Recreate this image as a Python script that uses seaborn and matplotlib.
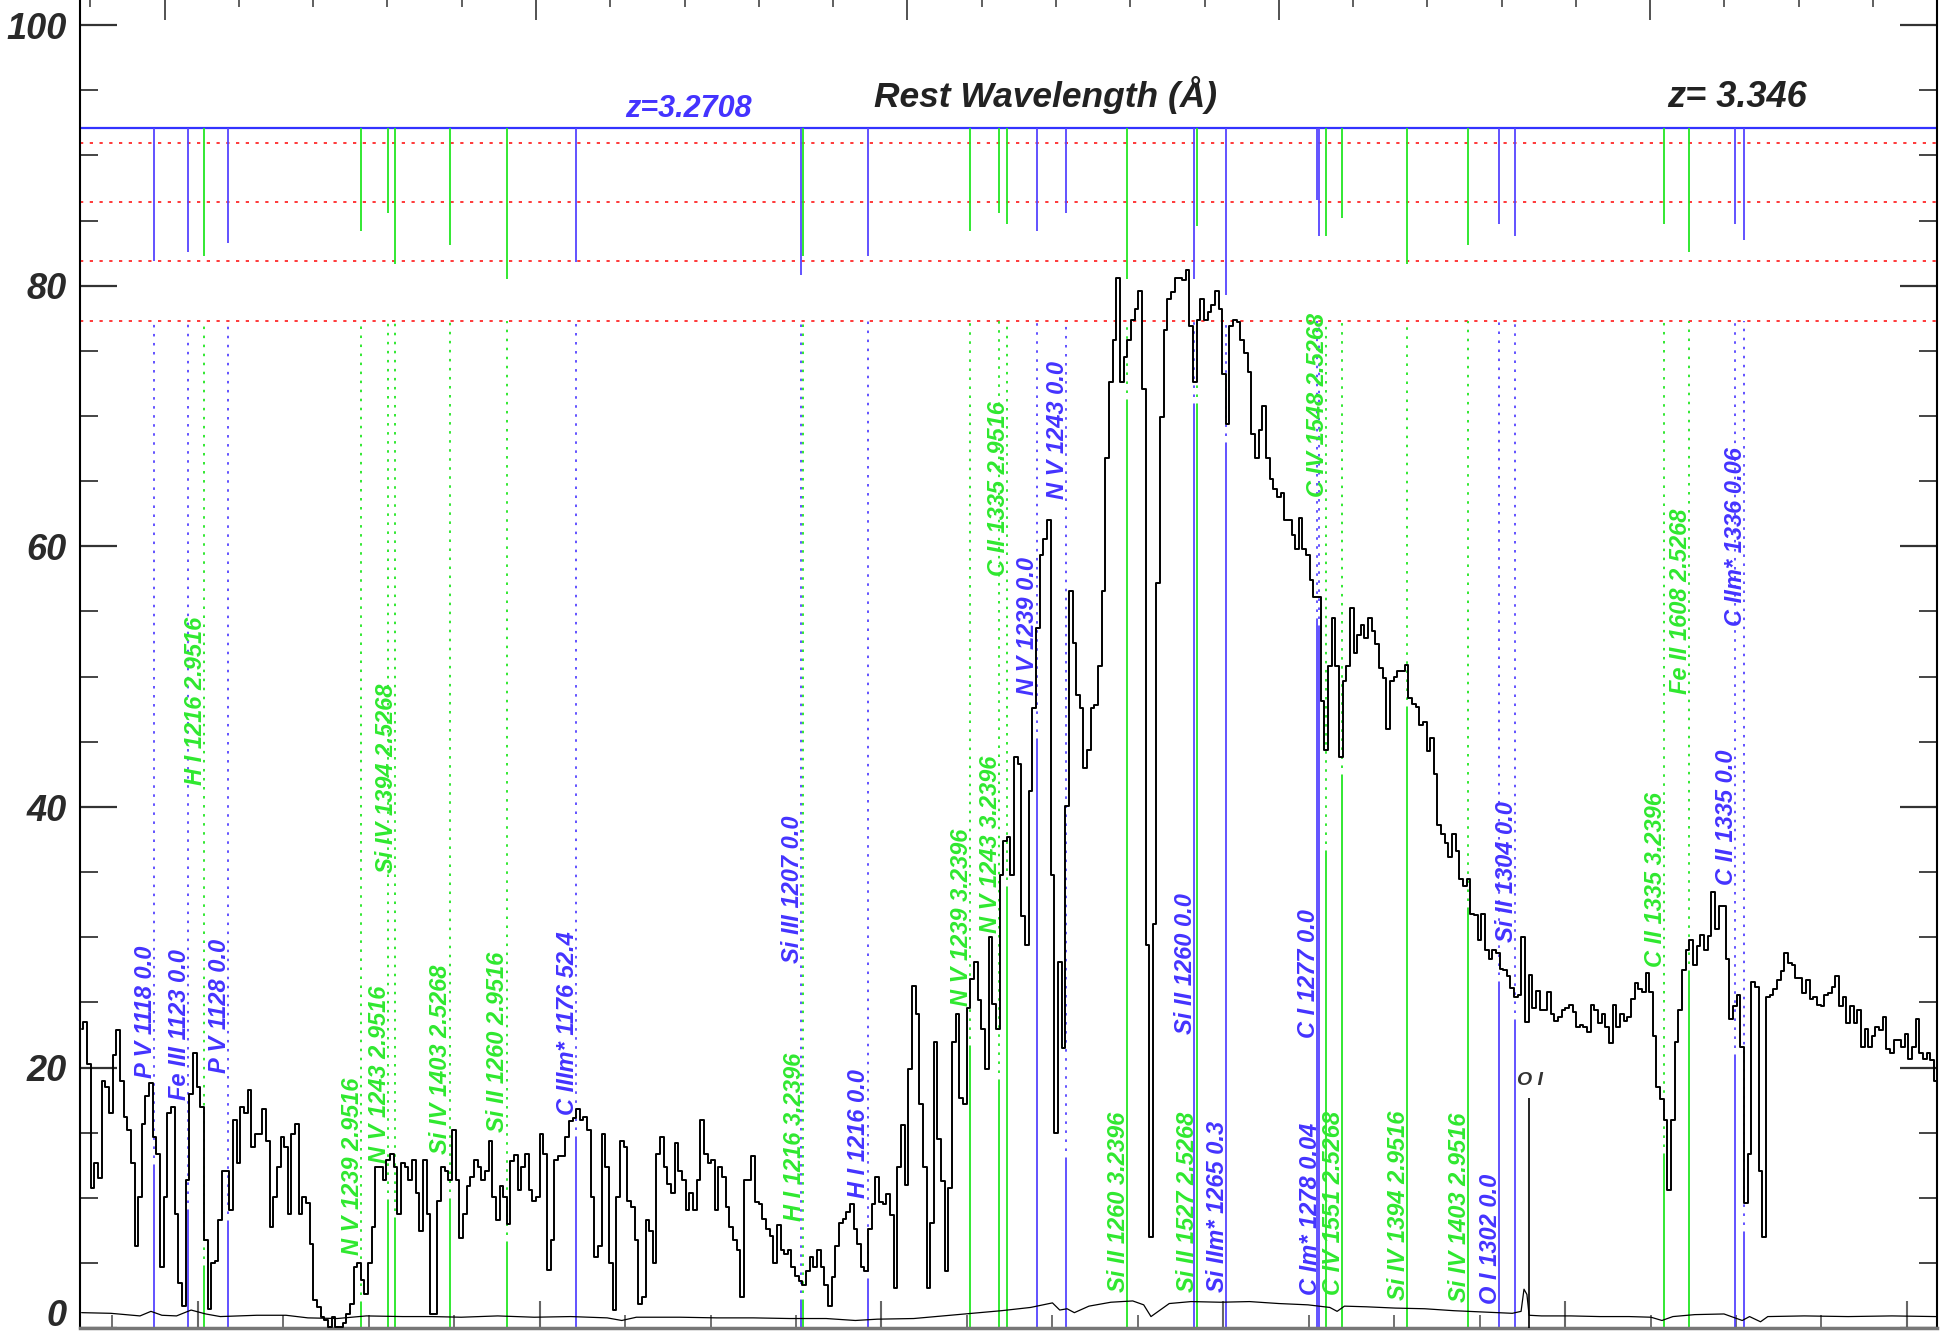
import numpy as np
import pandas as pd
import matplotlib
matplotlib.use("Agg")
import matplotlib.pyplot as plt
from matplotlib.ticker import MultipleLocator
import seaborn as sns

# === Redshifts === #
z_sys = 3.2708      # blue system, spectrum wavelengths are rest at this z
z_top = 3.346       # top axis rest frame

# === Spectrum: rest wavelength (z_sys), 0.5 A bins starting at 1108 A === #
wave_start = 1108.0
wave_step = 0.5

flux_a = [23.0, 23.5, 20.3, 10.8, 12.7, 11.5, 19.0, 18.5, 16.5, 21.0,
          22.9, 19.0, 16.2, 15.2, 12.7, 6.3, 10.1, 15.7, 17.8, 18.8,
          14.7, 13.4, 4.7, 10.1, 16.5, 17.0, 8.8, 3.5, 1.7, 11.4,
          18.0, 21.1, 18.5, 17.0, 6.8, 1.5, 5.0, 5.2, 8.3, 12.1,
          12.1, 9.1, 16.0, 12.7, 17.0, 16.5, 18.3, 13.9, 14.9, 14.9,
          16.8, 14.4, 7.8, 10.1, 12.4, 14.7, 13.9, 8.8, 14.9, 15.7,
          8.8, 10.1, 9.6, 6.5, 2.2, 1.6, 0.9, 0.6, 0.1, 0.9,
          0.1, 0.1, 0.4, 1.1, 1.9, 4.7, 5.0, 3.7, 2.6, 5.0,
          7.8, 12.4, 12.4, 11.4, 12.9, 13.4, 12.4, 8.8, 12.7, 12.4,
          11.4, 12.9, 10.4]
flux_b = [7.5, 12.9, 8.8, 1.1, 1.1, 9.8, 12.4, 12.1, 11.4, 15.2,
          11.4, 6.9, 8.8, 10.9, 11.6, 12.9, 12.4, 11.4, 12.1, 14.4,
          10.1, 8.3, 10.9, 10.1, 8.0, 12.8, 13.3, 10.6, 12.4, 13.4,
          10.6, 9.8, 10.1, 14.9, 13.4, 4.5, 6.8, 12.9, 13.2, 13.2,
          14.7, 15.9, 16.1, 16.8, 16.0, 16.2, 15.2, 10.1, 5.5, 6.3,
          14.9, 12.4, 5.0, 1.4, 10.1, 14.4, 13.9, 9.8, 9.3, 6.8,
          1.9, 2.4, 8.3, 7.5, 5.0, 13.4, 14.7, 12.4, 11.1, 10.4,
          14.2, 12.1, 11.4, 9.1, 10.4, 9.1, 11.4, 16.0, 13.4, 12.7,
          12.9, 9.1, 12.4, 11.6, 9.3, 7.8, 6.8, 6.0, 2.4, 11.4,
          11.4]
flux_c = [13.2, 9.7, 9.5, 8.4, 7.6, 7.1, 5.0, 7.9, 6.0, 5.7,
          6.0, 4.7, 4.0, 3.6, 3.3, 4.4, 5.5, 4.7, 6.0, 4.7,
          3.3, 1.7, 3.9, 6.3, 8.1, 8.4, 8.9, 9.5, 7.6, 6.5,
          4.7, 4.4, 7.6, 9.5, 11.6, 9.7, 9.5, 10.3, 8.7, 3.1,
          12.4, 15.6, 11.0, 19.9, 26.3, 24.1, 17.2, 12.4, 3.1, 8.1,
          22.0, 14.5, 11.3, 4.4, 10.8, 22.0, 24.1, 17.7, 17.2, 24.6,
          26.8, 28.1, 25.2, 23.0, 19.9, 30.0, 24.9, 23.0, 34.8, 37.4,
          37.7, 34.8, 43.8, 43.3, 31.6, 29.4, 41.2, 47.6, 53.7, 59.3,
          60.6, 62.0, 34.8, 15.0, 28.1, 21.5, 40.1, 56.6]
flux_d = [52.6, 48.6, 47.6, 43.0, 44.4, 47.6, 47.8, 50.8, 56.6, 66.8,
          72.6, 75.8, 80.6, 72.6, 74.5, 75.8, 77.4, 78.2, 79.6, 72.1,
          29.4, 7.0, 31.0, 57.2, 69.9, 76.6, 79.0, 79.5, 80.6, 80.6,
          80.4, 81.2, 76.9, 72.6, 77.4, 79.0, 77.4, 78.0, 78.5, 79.6,
          78.2, 73.2, 69.4, 76.9, 77.4, 77.2, 75.8, 74.8, 73.4, 68.6,
          66.8, 68.9, 70.8, 66.8, 65.2, 64.4, 63.8, 64.1, 62.0, 62.0,
          60.9, 59.8, 62.2, 59.8, 59.3, 57.4, 56.1, 56.1, 48.1, 44.4,
          50.8, 54.5, 50.8, 43.8, 49.7, 50.8, 55.3, 51.8, 53.2]
flux_e = [54.0, 53.0, 54.5, 53.5, 52.5, 50.7, 49.9, 46.0, 49.7, 50.0,
          50.4, 50.4, 50.9, 48.4, 47.9, 47.7, 46.3, 46.5, 44.3, 45.3,
          42.5, 38.6, 37.9, 37.2, 36.2, 37.9, 36.6, 34.5, 33.9, 34.5,
          31.8, 31.7, 29.8, 31.8, 29.0, 28.3, 29.0, 28.8, 27.6, 27.5,
          27.0, 26.1, 25.4, 25.6, 30.0, 23.5, 27.1, 24.6, 25.9, 24.4,
          24.4, 25.8, 24.1, 23.6, 23.9, 24.4, 24.6, 24.8, 24.3, 23.1,
          23.3, 23.1, 22.7, 24.8, 24.4, 23.4, 24.1, 23.1, 21.9, 24.8,
          23.1, 24.1, 23.6, 23.9, 25.3, 26.5, 26.0, 25.8, 27.3]
flux_f = [25.8, 22.4, 18.5, 17.6, 16.0, 10.6, 16.0, 22.0, 24.4, 27.5,
          29.0, 29.8, 27.9, 29.3, 30.2, 29.0, 30.1, 33.5, 30.6, 32.4,
          32.4, 28.3, 23.7, 24.7, 25.6, 21.6, 9.6, 13.4, 26.6, 26.2,
          12.1, 7.0, 25.4, 25.6, 26.0, 26.7, 27.4, 28.8, 28.0, 27.9,
          26.9, 26.9, 25.7, 26.7, 25.3, 25.4, 24.8, 24.7, 25.6, 25.7,
          26.2, 27.0, 24.7, 25.4, 23.4, 24.7, 23.4, 24.4, 21.6, 23.0,
          21.6, 22.4, 23.1, 22.9, 23.9, 21.4, 21.1, 22.1, 22.1, 21.6,
          22.6, 20.7, 21.6, 23.7, 21.1, 20.7, 21.1, 20.6, 19.0]

# === Error spectrum === #
err_wave = [1108, 1112, 1116, 1117.5, 1119, 1121, 1123, 1125, 1127, 1132,
            1136, 1139, 1143, 1147, 1152, 1156, 1160, 1165, 1170, 1175,
            1180, 1182, 1184, 1190, 1195, 1200, 1205, 1210, 1214, 1217,
            1222, 1226, 1230, 1234, 1238, 1241, 1242, 1243, 1244, 1246,
            1249, 1252, 1253.5, 1254.5, 1255.5, 1257, 1260, 1264, 1268, 1272,
            1276, 1279, 1280, 1281, 1284, 1288, 1292, 1296, 1300, 1304,
            1305.2, 1305.6, 1306.0, 1306.3, 1308, 1312, 1316, 1320, 1323, 1324.5,
            1326, 1329, 1333, 1335.5, 1336.5, 1338, 1339, 1344, 1350, 1356, 1362]
err_flux = [1.2, 1.15, 0.95, 1.3, 1.0, 0.95, 1.4, 1.1, 0.9, 1.0,
            1.0, 0.8, 0.75, 0.95, 0.9, 0.9, 0.85, 0.95, 0.85, 0.9,
            0.8, 0.6, 0.85, 0.85, 0.8, 0.8, 0.75, 0.75, 0.6, 0.7,
            0.75, 0.95, 1.15, 1.35, 1.6, 1.95, 1.4, 1.5, 1.2, 1.7,
            2.0, 2.1, 1.8, 0.9, 1.3, 1.9, 2.05, 2.0, 2.05, 1.9,
            1.8, 1.6, 1.3, 1.7, 1.65, 1.55, 1.5, 1.35, 1.25, 1.15,
            1.3, 3.0, 2.6, 1.0, 0.95, 0.95, 0.9, 0.9, 0.85, 0.6,
            0.9, 1.05, 1.1, 0.6, 0.9, 0.5, 0.9, 0.95, 0.9, 0.95, 0.9]

# === Absorption line identifications === #
blue_names = ["P V 1118 0.0", "Fe III 1123 0.0", "P V 1128 0.0", "C IIIm* 1176 52.4",
              "Si III 1207 0.0", "H I 1216 0.0", "N V 1239 0.0", "N V 1243 0.0",
              "Si II 1260 0.0", "Si IIm* 1265 0.3", "C I 1277 0.0", "C Im* 1278 0.04",
              "O I 1302 0.0", "Si II 1304 0.0", "C II 1335 0.0", "C IIm* 1336 0.06"]
blue_rest = [1117.977, 1122.52, 1128.008, 1175.71, 1206.50, 1215.67, 1238.821, 1242.804,
             1260.422, 1264.738, 1277.245, 1277.51, 1302.168, 1304.370, 1334.532, 1335.708]
blue_top_end = [81.9, 82.55, 83.3, 81.8, 80.8, 82.24, 84.2, 85.6,
                80.55, 79.3, 86.6, 83.8, 84.7, 83.8, 84.7, 83.5]
blue_low = [12.4, 8.95, 8.1, 14.5, 2.0, 3.6, 45.1, 12.9,
            70.8, 67.8, 54.3, 53.7, 26.4, 23.5, 20.8, 7.2]
blue_label_y = [19.2, 17.5, 19.6, 16.4, 28.0, 10.0, 48.6, 63.6,
                22.6, 2.8, 22.3, 2.55, 1.85, 29.65, 34.0, 53.9]

green_names = ["H I 1216 2.9516", "N V 1239 2.9516", "N V 1243 2.9516", "Si IV 1394 2.5268",
               "Si IV 1403 2.5268", "Si II 1260 2.9516", "H I 1216 3.2396", "N V 1239 3.2396",
               "N V 1243 3.2396", "C II 1335 2.9516", "Si II 1260 3.2396", "Si II 1527 2.5268",
               "C IV 1548 2.5268", "C IV 1551 2.5268", "Si IV 1394 2.9516", "Si IV 1403 2.9516",
               "C II 1335 3.2396", "Fe II 1608 2.5268"]
green_rest = [1215.67, 1238.821, 1242.804, 1393.755, 1402.770, 1260.422, 1215.67, 1238.821,
              1242.804, 1334.532, 1260.422, 1526.707, 1548.195, 1550.770, 1393.755, 1402.770,
              1334.532, 1608.451]
green_z = [2.9516, 2.9516, 2.9516, 2.5268, 2.5268, 2.9516, 3.2396, 3.2396,
           3.2396, 2.9516, 3.2396, 2.5268, 2.5268, 2.5268, 2.9516, 2.9516,
           3.2396, 2.5268]
green_top_end = [82.24, 84.2, 85.6, 81.7, 83.1, 80.55, 82.24, 84.2,
                 85.6, 84.7, 80.55, 84.56, 83.8, 85.2, 81.7, 83.1, 84.7, 82.55]
green_low = [4.6, 1.9, 9.7, 8.3, 9.8, 6.5, 2.0, 21.5,
             18.9, 33.7, 71.1, 70.8, 36.5, 42.3, 47.5, 32.1, 13.2, 27.3]
green_label_y = [41.7, 5.6, 12.7, 34.9, 13.4, 15.1, 8.2, 24.7,
                 30.3, 57.7, 2.8, 2.8, 63.8, 2.55, 2.2, 2.0, 27.75, 48.7]

# reference levels
blue_level = 92.1
red_levels = [90.97, 86.4, 81.86, 77.3]
sky_line_obs = 5579.0
sky_low = 17.7
ytick_vals = [0, 20, 40, 60, 80, 100]

# === Build frames === #
flux = np.concatenate([flux_a, flux_b, flux_c, flux_d, flux_e, flux_f])
wave_rest = wave_start + wave_step * np.arange(len(flux))
spec = pd.DataFrame({"wave_obs": wave_rest * (1 + z_sys), "flux": flux})
err = pd.DataFrame({"wave_obs": np.array(err_wave) * (1 + z_sys), "flux": err_flux})

blue = pd.DataFrame({"name": blue_names, "obs": np.array(blue_rest) * (1 + z_sys),
                     "top_end": blue_top_end, "low": blue_low, "label_y": blue_label_y})
blue["text_color"] = "#4433ff"
blue["line_color"] = "#5544ff"
green = pd.DataFrame({"name": green_names,
                      "obs": np.array(green_rest) * (1 + np.array(green_z)),
                      "top_end": green_top_end, "low": green_low, "label_y": green_label_y})
green["text_color"] = "#2fe82f"
green["line_color"] = "#22e622"
lines = pd.concat([green, blue], ignore_index=True)

# === Style === #
sns.set_theme(style="white")
plt.rcParams["font.family"] = ["Liberation Sans", "DejaVu Sans"]
plt.rcParams["lines.scale_dashes"] = True

fig = plt.figure(figsize=(19.44, 13.39), dpi=100)
ax = fig.add_axes([80 / 1944, 10.7 / 1339, 1857 / 1944, 1328.3 / 1339])

# red dotted levels and blue marker baseline
for lev in red_levels:
    ax.axhline(lev, color="#ff2a2a", lw=1.3, ls=(0, (1.8, 3.6)), zorder=1)
ax.axhline(blue_level, color="#3333ff", lw=1.6, zorder=2)

# line markers
for _, row in lines.iterrows():
    ax.vlines(row["obs"], row["top_end"], blue_level, color=row["line_color"], lw=1.3, zorder=2)
    ax.vlines(row["obs"], row["low"], red_levels[-1], color=row["line_color"], lw=1.3,
              linestyles=(0, (1.4, 3.6)), zorder=2)
    ax.vlines(row["obs"], 0, row["low"], color=row["line_color"], lw=1.3, zorder=2)
    ax.annotate(row["name"], xy=(row["obs"], row["label_y"]), xytext=(-1.5, 0),
                textcoords="offset points", rotation=90, rotation_mode="anchor",
                ha="left", va="baseline", color=row["text_color"], fontsize=17,
                fontweight="bold", fontstyle="italic", zorder=4)

# sky line
ax.vlines(sky_line_obs, 0, sky_low, color="black", lw=1.2, zorder=3)
ax.text(0.7808, 18.7, "O I", transform=ax.get_yaxis_transform(), ha="center",
        va="baseline", fontsize=14, fontweight="bold", fontstyle="italic", color="#333333")

# spectrum and error
sns.lineplot(data=spec, x="wave_obs", y="flux", drawstyle="steps-mid", color="black",
             lw=1.4, estimator=None, ax=ax, zorder=5)
sns.lineplot(data=err, x="wave_obs", y="flux", color="black", lw=0.9,
             estimator=None, ax=ax, zorder=5)

ax.set_xlim(4731.1, 5817.6)
ax.set_ylim(0, 101.92)
ax.set_xlabel("")
ax.set_ylabel("")

# === Axes and ticks === #
ax.spines["top"].set_visible(False)
ax.spines["left"].set_color("black")
ax.spines["left"].set_linewidth(1.5)
ax.spines["right"].set_color("black")
ax.spines["right"].set_linewidth(1.5)
ax.spines["bottom"].set_color("#777777")
ax.spines["bottom"].set_linewidth(2.5)

ax.xaxis.set_major_locator(MultipleLocator(200))
ax.xaxis.set_minor_locator(MultipleLocator(50))
ax.yaxis.set_major_locator(MultipleLocator(20))
ax.yaxis.set_minor_locator(MultipleLocator(5))
ax.tick_params(axis="x", which="major", direction="in", length=19.4, width=1.5,
               color="#666666", bottom=True, top=False, labelbottom=False)
ax.tick_params(axis="x", which="minor", direction="in", length=9.4, width=1.3,
               color="#666666", bottom=True, top=False)
ax.tick_params(axis="y", which="major", direction="in", length=26.4, width=1.6,
               color="#333333", left=True, right=True, labelleft=False, labelright=False)
ax.tick_params(axis="y", which="minor", direction="in", length=13, width=1.4,
               color="#444444", left=True, right=True)

top = ax.secondary_xaxis("top", functions=(lambda x: x / (1 + z_top), lambda x: x * (1 + z_top)))
top.xaxis.set_major_locator(MultipleLocator(50))
top.xaxis.set_minor_locator(MultipleLocator(10))
top.tick_params(axis="x", which="major", direction="in", length=14.4, width=1.3,
                color="#444444", labeltop=False)
top.tick_params(axis="x", which="minor", direction="in", length=5, width=1.2,
                color="#444444")
top.spines["top"].set_visible(False)

# y tick labels
for v in ytick_vals:
    dy = 8.4 if v == 0 else -3
    ax.annotate(str(v), xy=(0, v), xycoords=("axes fraction", "data"),
                xytext=(-9.4, dy), textcoords="offset points", ha="right", va="center",
                fontsize=26, fontweight="bold", fontstyle="italic", color="#2a2a2a",
                annotation_clip=False)

# headings
ax.text(0.5197, 93.73, "Rest Wavelength (Å)", transform=ax.get_yaxis_transform(),
        ha="center", va="baseline", fontsize=25.5, fontweight="bold", fontstyle="italic",
        color="#222222")
ax.text(0.3274, 92.94, "z=3.2708", transform=ax.get_yaxis_transform(), ha="center",
        va="baseline", fontsize=22, fontweight="bold", fontstyle="italic", color="#4433ff")
ax.text(0.8923, 93.7, "z= 3.346", transform=ax.get_yaxis_transform(), ha="center",
        va="baseline", fontsize=26, fontweight="bold", fontstyle="italic", color="#222222")

fig.savefig("out.png", dpi=100)
plt.close(fig)
